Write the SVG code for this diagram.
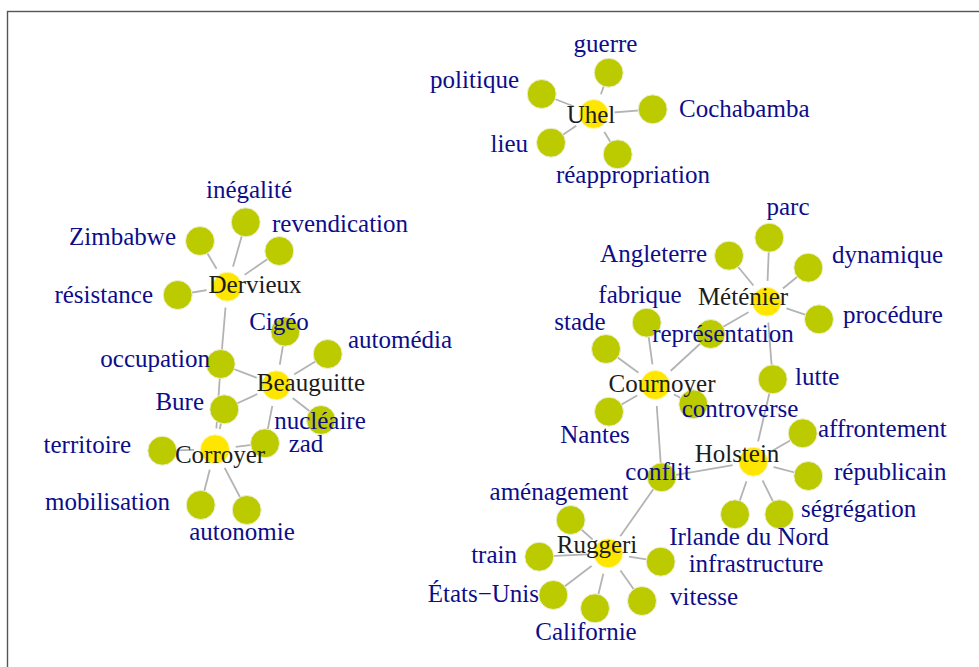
<svg xmlns="http://www.w3.org/2000/svg" width="979" height="667" viewBox="0 0 979 667">
<style>
.e line{stroke:#b3b3b3;stroke-width:1.8}
.lf{fill:#bccb00;stroke:#eef0d8;stroke-width:1}
.ct{fill:#ffe600;stroke:#fff6b0;stroke-width:1}
text{font-family:"Liberation Serif","Times New Roman",serif;font-size:25px}
.l{fill:#0d0d8a}
.c{fill:#1c1c1c}
.s{text-anchor:start}.m{text-anchor:middle}.n{text-anchor:end}
</style>
<defs>
<mask id="gap" maskUnits="userSpaceOnUse" x="0" y="0" width="979" height="667">
<rect x="0" y="0" width="979" height="667" fill="#fff"/>
<g fill="#000">
<circle cx="593.7" cy="114" r="21"/>
<circle cx="227.3" cy="286.7" r="21"/>
<circle cx="276.3" cy="385.3" r="21"/>
<circle cx="215" cy="449.3" r="21"/>
<circle cx="766.7" cy="301.7" r="21"/>
<circle cx="655.3" cy="385" r="21"/>
<circle cx="753.3" cy="461.7" r="21"/>
<circle cx="608.3" cy="553.3" r="21"/>
</g>
</mask>
</defs>
<rect x="0" y="0" width="979" height="667" fill="#fff"/>
<rect x="7.5" y="11.5" width="1000" height="700" fill="none" stroke="#555" stroke-width="1.4"/>
<g id="edges" class="e" mask="url(#gap)">
<line x1="593.7" y1="114" x2="608.7" y2="72.7"/>
<line x1="593.7" y1="114" x2="541.7" y2="94"/>
<line x1="593.7" y1="114" x2="652.7" y2="109.3"/>
<line x1="593.7" y1="114" x2="551" y2="142.7"/>
<line x1="593.7" y1="114" x2="617.7" y2="154.3"/>
<line x1="227.3" y1="286.7" x2="245.7" y2="222.3"/>
<line x1="227.3" y1="286.7" x2="200" y2="241"/>
<line x1="227.3" y1="286.7" x2="279.3" y2="251"/>
<line x1="227.3" y1="286.7" x2="177.7" y2="295"/>
<line x1="227.3" y1="286.7" x2="220.7" y2="364"/>
<line x1="276.3" y1="385.3" x2="285.3" y2="331.7"/>
<line x1="276.3" y1="385.3" x2="327.7" y2="354"/>
<line x1="276.3" y1="385.3" x2="321" y2="420"/>
<line x1="276.3" y1="385.3" x2="265" y2="443.3"/>
<line x1="276.3" y1="385.3" x2="224.3" y2="409.3"/>
<line x1="276.3" y1="385.3" x2="220.7" y2="364"/>
<line x1="215" y1="449.3" x2="220.7" y2="364"/>
<line x1="215" y1="449.3" x2="224.3" y2="409.3"/>
<line x1="215" y1="449.3" x2="265" y2="443.3"/>
<line x1="215" y1="449.3" x2="162.3" y2="450.7"/>
<line x1="215" y1="449.3" x2="200.7" y2="505"/>
<line x1="215" y1="449.3" x2="246.7" y2="510"/>
<line x1="766.7" y1="301.7" x2="769.3" y2="237.7"/>
<line x1="766.7" y1="301.7" x2="729" y2="255.7"/>
<line x1="766.7" y1="301.7" x2="808.3" y2="267.7"/>
<line x1="766.7" y1="301.7" x2="819" y2="319.3"/>
<line x1="766.7" y1="301.7" x2="710.7" y2="334"/>
<line x1="766.7" y1="301.7" x2="772.7" y2="379.3"/>
<line x1="655.3" y1="385" x2="710.7" y2="334"/>
<line x1="655.3" y1="385" x2="646.7" y2="322.7"/>
<line x1="655.3" y1="385" x2="606" y2="349"/>
<line x1="655.3" y1="385" x2="609" y2="411.7"/>
<line x1="655.3" y1="385" x2="693.3" y2="404.3"/>
<line x1="655.3" y1="385" x2="661.7" y2="477.3"/>
<line x1="753.3" y1="461.7" x2="661.7" y2="477.3"/>
<line x1="753.3" y1="461.7" x2="772.7" y2="379.3"/>
<line x1="753.3" y1="461.7" x2="802.7" y2="433.3"/>
<line x1="753.3" y1="461.7" x2="808.3" y2="476"/>
<line x1="753.3" y1="461.7" x2="779.3" y2="514.3"/>
<line x1="753.3" y1="461.7" x2="735" y2="514.3"/>
<line x1="608.3" y1="553.3" x2="661.7" y2="477.3"/>
<line x1="608.3" y1="553.3" x2="570.7" y2="520"/>
<line x1="608.3" y1="553.3" x2="539.3" y2="556.7"/>
<line x1="608.3" y1="553.3" x2="553.3" y2="595"/>
<line x1="608.3" y1="553.3" x2="595" y2="608.3"/>
<line x1="608.3" y1="553.3" x2="642" y2="601"/>
<line x1="608.3" y1="553.3" x2="660.7" y2="561.7"/>
</g>
<g id="n-guerre"><circle class="lf" cx="608.7" cy="72.7" r="14.5"/><text class="l m" x="605.5" y="52">guerre</text></g>
<g id="n-politique"><circle class="lf" cx="541.7" cy="94" r="14.5"/><text class="l n" x="519" y="88">politique</text></g>
<g id="n-cochabamba"><circle class="lf" cx="652.7" cy="109.3" r="14.5"/><text class="l s" x="679" y="117">Cochabamba</text></g>
<g id="n-lieu"><circle class="lf" cx="551" cy="142.7" r="14.5"/><text class="l n" x="528" y="152">lieu</text></g>
<g id="n-reappropriation"><circle class="lf" cx="617.7" cy="154.3" r="14.5"/><text class="l m" x="633" y="183">réappropriation</text></g>
<g id="n-inegalite"><circle class="lf" cx="245.7" cy="222.3" r="14.5"/><text class="l m" x="249" y="198">inégalité</text></g>
<g id="n-zimbabwe"><circle class="lf" cx="200" cy="241" r="14.5"/><text class="l n" x="176" y="245">Zimbabwe</text></g>
<g id="n-revendication"><circle class="lf" cx="279.3" cy="251" r="14.5"/><text class="l s" x="272" y="232">revendication</text></g>
<g id="n-resistance"><circle class="lf" cx="177.7" cy="295" r="14.5"/><text class="l n" x="153" y="303">résistance</text></g>
<g id="n-occupation"><circle class="lf" cx="220.7" cy="364" r="14.5"/><text class="l n" x="210" y="367">occupation</text></g>
<g id="n-cigeo"><circle class="lf" cx="285.3" cy="331.7" r="14.5"/><text class="l m" x="279" y="330">Cigéo</text></g>
<g id="n-automedia"><circle class="lf" cx="327.7" cy="354" r="14.5"/><text class="l s" x="348" y="348">automédia</text></g>
<g id="n-bure"><circle class="lf" cx="224.3" cy="409.3" r="14.5"/><text class="l n" x="204" y="410">Bure</text></g>
<g id="n-nucleaire"><circle class="lf" cx="321" cy="420" r="14.5"/><text class="l m" x="320" y="429">nucléaire</text></g>
<g id="n-zad"><circle class="lf" cx="265" cy="443.3" r="14.5"/><text class="l m" x="306" y="452">zad</text></g>
<g id="n-territoire"><circle class="lf" cx="162.3" cy="450.7" r="14.5"/><text class="l n" x="131" y="453">territoire</text></g>
<g id="n-mobilisation"><circle class="lf" cx="200.7" cy="505" r="14.5"/><text class="l n" x="170" y="510">mobilisation</text></g>
<g id="n-autonomie"><circle class="lf" cx="246.7" cy="510" r="14.5"/><text class="l m" x="242" y="540">autonomie</text></g>
<g id="n-parc"><circle class="lf" cx="769.3" cy="237.7" r="14.5"/><text class="l m" x="788" y="215">parc</text></g>
<g id="n-angleterre"><circle class="lf" cx="729" cy="255.7" r="14.5"/><text class="l n" x="707" y="262">Angleterre</text></g>
<g id="n-dynamique"><circle class="lf" cx="808.3" cy="267.7" r="14.5"/><text class="l s" x="832" y="263">dynamique</text></g>
<g id="n-procedure"><circle class="lf" cx="819" cy="319.3" r="14.5"/><text class="l s" x="843" y="323">procédure</text></g>
<g id="n-fabrique"><circle class="lf" cx="646.7" cy="322.7" r="14.5"/><text class="l m" x="640" y="303">fabrique</text></g>
<g id="n-representation"><circle class="lf" cx="710.7" cy="334" r="14.5"/><text class="l m" x="723" y="342">représentation</text></g>
<g id="n-stade"><circle class="lf" cx="606" cy="349" r="14.5"/><text class="l m" x="580" y="330">stade</text></g>
<g id="n-lutte"><circle class="lf" cx="772.7" cy="379.3" r="14.5"/><text class="l s" x="795" y="385">lutte</text></g>
<g id="n-nantes"><circle class="lf" cx="609" cy="411.7" r="14.5"/><text class="l m" x="595" y="443">Nantes</text></g>
<g id="n-controverse"><circle class="lf" cx="693.3" cy="404.3" r="14.5"/><text class="l m" x="740" y="417">controverse</text></g>
<g id="n-affrontement"><circle class="lf" cx="802.7" cy="433.3" r="14.5"/><text class="l s" x="818" y="437">affrontement</text></g>
<g id="n-republicain"><circle class="lf" cx="808.3" cy="476" r="14.5"/><text class="l s" x="834" y="480">républicain</text></g>
<g id="n-conflit"><circle class="lf" cx="661.7" cy="477.3" r="14.5"/><text class="l m" x="658" y="480">conflit</text></g>
<g id="n-segregation"><circle class="lf" cx="779.3" cy="514.3" r="14.5"/><text class="l s" x="801" y="517">ségrégation</text></g>
<g id="n-irlande"><circle class="lf" cx="735" cy="514.3" r="14.5"/><text class="l m" x="749" y="545">Irlande du Nord</text></g>
<g id="n-amenagement"><circle class="lf" cx="570.7" cy="520" r="14.5"/><text class="l m" x="559" y="500">aménagement</text></g>
<g id="n-train"><circle class="lf" cx="539.3" cy="556.7" r="14.5"/><text class="l n" x="517" y="563">train</text></g>
<g id="n-infrastructure"><circle class="lf" cx="660.7" cy="561.7" r="14.5"/><text class="l m" x="756" y="572">infrastructure</text></g>
<g id="n-etats-unis"><circle class="lf" cx="553.3" cy="595" r="14.5"/><text class="l n" x="539" y="602">États−Unis</text></g>
<g id="n-vitesse"><circle class="lf" cx="642" cy="601" r="14.5"/><text class="l s" x="670" y="605">vitesse</text></g>
<g id="n-californie"><circle class="lf" cx="595" cy="608.3" r="14.5"/><text class="l m" x="586" y="640">Californie</text></g>
<g id="n-uhel"><circle class="ct" cx="593.7" cy="114" r="14.5"/><text class="c m" x="591" y="123">Uhel</text></g>
<g id="n-dervieux"><circle class="ct" cx="227.3" cy="286.7" r="14.5"/><text class="c m" x="255" y="293">Dervieux</text></g>
<g id="n-beauguitte"><circle class="ct" cx="276.3" cy="385.3" r="14.5"/><text class="c m" x="311" y="391">Beauguitte</text></g>
<g id="n-corroyer"><circle class="ct" cx="215" cy="449.3" r="14.5"/><text class="c m" x="220" y="463">Corroyer</text></g>
<g id="n-metenier"><circle class="ct" cx="766.7" cy="301.7" r="14.5"/><text class="c m" x="743" y="305">Méténier</text></g>
<g id="n-cournoyer"><circle class="ct" cx="655.3" cy="385" r="14.5"/><text class="c m" x="662" y="392">Cournoyer</text></g>
<g id="n-holstein"><circle class="ct" cx="753.3" cy="461.7" r="14.5"/><text class="c m" x="737" y="462">Holstein</text></g>
<g id="n-ruggeri"><circle class="ct" cx="608.3" cy="553.3" r="14.5"/><text class="c m" x="597" y="553">Ruggeri</text></g>
</svg>
